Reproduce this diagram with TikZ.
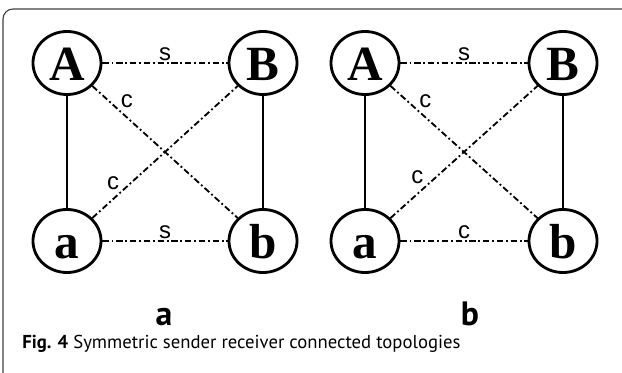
\documentclass[tikz,border=0pt]{standalone}
\usepackage{fontspec}
\setsansfont{PT Sans}
\newfontfamily\letterfont{Liberation Serif}
\newfontfamily\labelfont{Liberation Sans}
\usetikzlibrary{shapes.geometric}

\tikzset{
  station/.style={ellipse, draw, line width=2pt, minimum width=1.7cm, minimum height=1.575cm,
    inner sep=0pt, text height=25pt, text depth=0pt, font=\letterfont\bfseries\fontsize{35}{35}\selectfont},
  wire/.style={line width=1.6pt},
  cross/.style={line width=1.3pt, dash pattern=on 4.5pt off 2pt on 1.3pt off 2pt},
  tag/.style={inner sep=1pt, font=\labelfont\fontsize{17}{17}\selectfont},
  panel/.style={anchor=base, inner sep=0pt, font=\sffamily\bfseries\fontsize{24}{24}\selectfont}
}

\begin{document}
\begin{tikzpicture}[x=0.025cm, y=-0.025cm]
    \useasboundingbox (0,0) rectangle (622,373);
    \draw[black!75, line width=0.8pt, rounded corners=0.25cm] (3,374) -- (3,9) -- (623,9);

    % topology a
    \node[station] (A1) at (67,63) {A};
    \node[station] (B1) at (263,63) {B};
    \node[station] (a1) at (67,241) {a};
    \node[station] (b1) at (263,241) {b};
    \draw[wire] (A1) -- (a1);
    \draw[wire] (B1) -- (b1);
    \draw[cross] (A1) -- node[tag, above] {s} (B1);
    \draw[cross] (a1) -- node[tag, above] {s} (b1);
    \draw[cross] (A1) -- node[tag, pos=.18, above right] {c} (b1);
    \draw[cross] (a1) -- node[tag, pos=.2, above left] {c} (B1);

    % topology b
    \node[station] (A2) at (365,63) {A};
    \node[station] (B2) at (563,63) {B};
    \node[station] (a2) at (365,241) {a};
    \node[station] (b2) at (563,241) {b};
    \draw[wire] (A2) -- (a2);
    \draw[wire] (B2) -- (b2);
    \draw[cross] (A2) -- node[tag, above] {s} (B2);
    \draw[cross] (a2) -- node[tag, above] {c} (b2);
    \draw[cross] (A2) -- node[tag, pos=.18, above right] {c} (b2);
    \draw[cross] (a2) -- node[tag, pos=.24, above left] {c} (B2);

    \node[panel] (capa) at (164,325) {a};
    \node[panel] (capb) at (470,325) {b};
    \node[anchor=base west, inner sep=0pt, font=\sffamily\fontsize{13.3}{16}\selectfont] (caption) at (22,348)
      {\textbf{Fig. 4} Symmetric sender receiver connected topologies};
\end{tikzpicture}
\end{document}
